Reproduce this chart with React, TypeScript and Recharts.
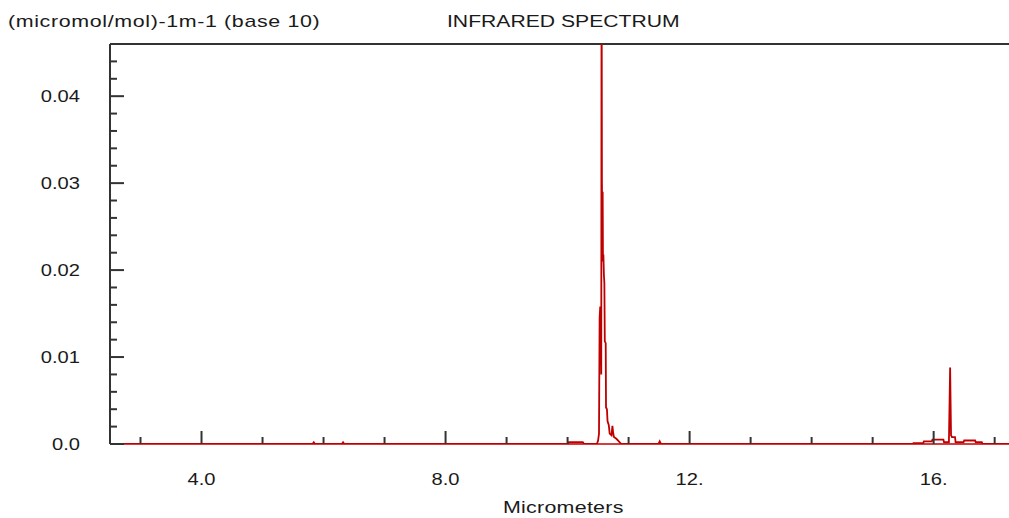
import { LineChart, Line, XAxis, YAxis, ReferenceLine } from "recharts";

// wavelength (micrometers) and absorbance
const wavelengths = [
  2.5, 5.82, 5.84, 5.86, 6.3, 6.32, 6.34,
  10.0, 10.02, 10.25, 10.27,
  10.48, 10.5, 10.515, 10.525, 10.535, 10.545, 10.552, 10.557, 10.563, 10.57,
  10.575, 10.58, 10.587, 10.595, 10.603, 10.61, 10.625, 10.63, 10.645, 10.655,
  10.675, 10.69, 10.72, 10.735, 10.745, 10.76, 10.8, 10.84, 10.88,
  11.49, 11.51, 11.53,
  15.65, 15.67, 15.83, 15.84, 15.97, 15.98, 16.16, 16.17, 16.25, 16.27,
  16.285, 16.3, 16.35, 16.36, 16.49, 16.5, 16.68, 16.69, 16.79, 16.8, 17.235,
];
const absorbance = [
  0, 0, 0.0002, 0, 0, 0.0002, 0,
  0, 0.0002, 0.0002, 0,
  0, 0.0004, 0.0012, 0.0145, 0.0158, 0.015, 0.008, 0.06, 0.0302, 0.024,
  0.029, 0.021, 0.0218, 0.0195, 0.0185, 0.0118, 0.0116, 0.0042, 0.004, 0.0026,
  0.0022, 0.0012, 0.001, 0.0021, 0.0014, 0.0008, 0.0006, 0.0003, 0,
  0, 0.0003, 0,
  0, 0.0001, 0.0001, 0.0003, 0.0003, 0.0005, 0.0005, 0.0002, 0.0002, 0.0088,
  0.001, 0.0008, 0.0008, 0.0002, 0.0002, 0.0004, 0.0004, 0.0002, 0.0002, 0, 0,
];

const xTicks = [3, 4, 5, 6, 7, 8, 9, 10, 11, 12, 13, 14, 15, 16, 17];
const xLabels: Record<number, string> = { 4: "4.0", 8: "8.0", 12: "12.", 16: "16." };
const yTicks = [
  0, 0.002, 0.004, 0.006, 0.008, 0.01, 0.012, 0.014, 0.016, 0.018, 0.02, 0.022,
  0.024, 0.026, 0.028, 0.03, 0.032, 0.034, 0.036, 0.038, 0.04, 0.042, 0.044,
];
const yLabels = ["0.0", "0.01", "0.02", "0.03", "0.04"];

const data = wavelengths.map((w, i) => ({ w, a: absorbance[i] }));

const RED = "#c00000";
const AXIS = "#333333";
const TEXT = "#1a1a1a";
const FONT = "'Liberation Sans', Arial, sans-serif";
const STRETCH = 1.26;

const YTick = (props: any) => {
  const { x, y, payload } = props;
  const step = Math.round(payload.value * 1000);
  const major = step % 10 === 0;
  return (
    <g>
      <line x1={x} x2={x + (major ? 14 : 7)} y1={y} y2={y} stroke={AXIS} strokeWidth={2} />
      {major && (
        <text
          transform={`translate(80, ${y}) scale(${STRETCH}, 1)`}
          textAnchor="end"
          dy="0.36em"
          fontFamily={FONT}
          fontSize={16}
          fill={TEXT}
        >
          {yLabels[step / 10]}
        </text>
      )}
    </g>
  );
};

const XTick = (props: any) => {
  const { x, y, payload } = props;
  const label = xLabels[payload.value];
  return (
    <g>
      <line x1={x} x2={x} y1={y} y2={y - (label ? 13 : 7)} stroke={AXIS} strokeWidth={2} />
      {label && (
        <text
          transform={`translate(${x}, ${y + 35}) scale(${STRETCH}, 1)`}
          textAnchor="middle"
          dy="0.36em"
          fontFamily={FONT}
          fontSize={16}
          fill={TEXT}
        >
          {label}
        </text>
      )}
    </g>
  );
};

const textStyle = {
  position: "absolute" as const,
  top: 12,
  fontFamily: FONT,
  fontSize: 17,
  lineHeight: "20px",
  whiteSpace: "nowrap" as const,
  color: TEXT,
  transform: `scaleX(${STRETCH})`,
  transformOrigin: "0 0",
};

export default function App() {
  return (
    <div style={{ position: "absolute", left: 0, top: 0, width: 1009, height: 518, background: "#fff" }}>
      <div style={{ ...textStyle, left: 8, letterSpacing: 0.5 }}>(micromol/mol)-1m-1 (base 10)</div>
      <div style={{ ...textStyle, left: 447, fontSize: 16.8 }}>INFRARED SPECTRUM</div>
      <div style={{ ...textStyle, left: 503, top: 498, letterSpacing: 0.2 }}>Micrometers</div>
      <LineChart width={1009} height={518} data={data} margin={{ top: 44, right: 0, bottom: 0, left: 0 }}>
        <XAxis
          dataKey="w"
          type="number"
          domain={[2.5, 17.235]}
          allowDataOverflow
          ticks={xTicks}
          interval={0}
          tick={<XTick />}
          tickSize={0}
          tickMargin={0}
          tickLine={false}
          axisLine={{ stroke: RED, strokeWidth: 1.5 }}
          height={74}
        />
        <YAxis
          type="number"
          domain={[0, 0.046]}
          allowDataOverflow
          ticks={yTicks}
          interval={0}
          tick={<YTick />}
          tickSize={0}
          tickMargin={0}
          tickLine={false}
          axisLine={{ stroke: AXIS, strokeWidth: 2 }}
          width={110}
        />
        <ReferenceLine y={0.046} stroke={AXIS} strokeWidth={2} />
        <Line
          type="linear"
          dataKey="a"
          stroke={RED}
          strokeWidth={1.8}
          dot={false}
          isAnimationActive={false}
        />
      </LineChart>
    </div>
  );
}
